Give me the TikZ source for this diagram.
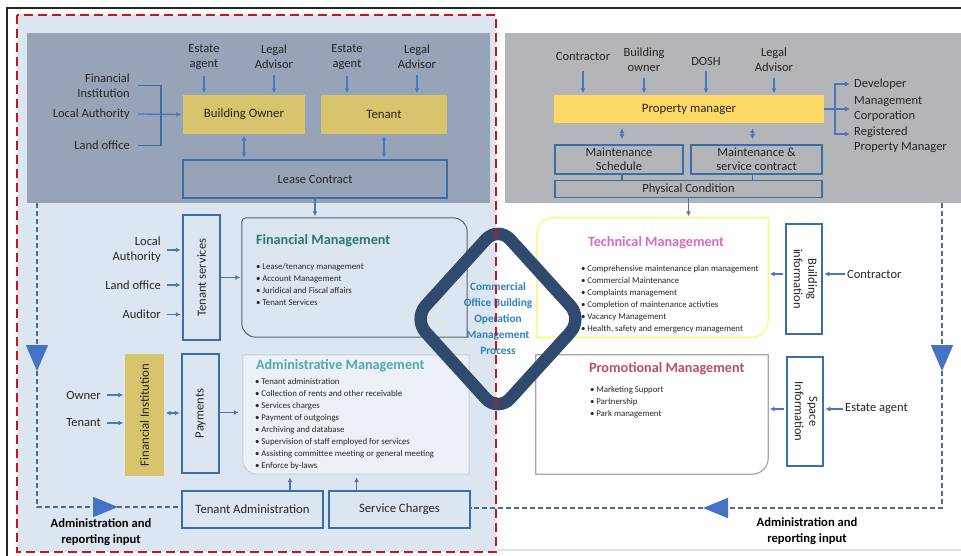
\documentclass[tikz,border=0pt]{standalone}
\usepackage{fontspec}
\setmainfont{Carlito}
\usepackage{graphicx}
\usepackage{tikz}
\usetikzlibrary{arrows.meta, positioning, shapes.geometric, decorations.markings}
\tikzset{>={Latex[width=5pt,length=5pt]}}

\definecolor{paleblue}{HTML}{DCE6F1}
\definecolor{slate}{HTML}{97A4B8}
\definecolor{greypanel}{HTML}{B4B5B8}
\definecolor{gold}{HTML}{D8C46C}
\definecolor{brightgold}{HTML}{FFD966}
\definecolor{boxblue}{HTML}{3A6EA8}
\definecolor{arrowblue}{HTML}{4A78BE}
\definecolor{bigblue}{HTML}{4472C4}
\definecolor{dashline}{HTML}{4E6A94}
\definecolor{navy}{HTML}{2F4A6D}
\definecolor{coretext}{HTML}{2F80BF}
\definecolor{fmteal}{HTML}{2B7676}
\definecolor{admteal}{HTML}{4FAAAE}
\definecolor{techpink}{HTML}{D46CC4}
\definecolor{promored}{HTML}{C04E62}
\definecolor{framered}{HTML}{C8141E}
\definecolor{ink}{HTML}{262626}

\tikzset{
  lbl/.style = {font=\fontsize{12.5}{15}\selectfont, text=ink, inner sep=1pt, align=center},
  party/.style = {fill=gold, text=ink, inner sep=0pt, font=\fontsize{12.8}{15}\selectfont},
  outbox/.style = {draw=boxblue, line width=1.5pt, text=ink, inner sep=0pt, align=center,
                   font=\fontsize{12.5}{14.5}\selectfont},
  flow/.style = {->, arrowblue, line width=1.3pt, shorten >=1.5pt},
  feed/.style = {flow, shorten <=5pt},
  link/.style = {boxblue, line width=1.3pt},
  report/.style = {dashline, line width=1.6pt, dash pattern=on 5pt off 3pt},
  mgmtarea/.style = {inner sep=0pt, minimum height=119pt},
  headline/.style = {anchor=west, inner sep=0pt, font=\fontsize{14.2}{16}\selectfont\bfseries},
  bullets/.style = {anchor=west, inner sep=0pt, align=left, text=ink, font=\fontsize{8.8}{12}\selectfont},
  replbl/.style = {font=\fontsize{12.6}{16}\selectfont\bfseries, align=center, inner sep=0pt, text=black},
}

\begin{document}
\begin{tikzpicture}[x=1pt, y=1pt]
\useasboundingbox (0,0) rectangle (961,-556);
% backdrop and panels
\fill[white] (0,0) rectangle (961,-556);
\fill[paleblue] (17,-15) rectangle (496,-552);
\fill[slate] (27,-33) rectangle (490,-203);
\fill[greypanel] (505,-33) rectangle (961,-203);
\draw[black!85, line width=1.5pt] (7,-556) -- (7,-8) -- (961,-8);
\draw[black!12, line width=2pt] (497,-550) -- (961,-550);

% owner / tenant block
\node (bo) [party, minimum width=122pt, minimum height=39pt] at (244,-114.5) {Building Owner};
\node (tn) [party, minimum width=126pt, minimum height=39pt] at (384,-114.5) {Tenant};
\node (lc) [outbox, minimum width=264pt, minimum height=38pt] at (315,-179) {Lease Contract};
\node (ea1) [lbl] at (204,-57) {Estate\\agent};
\node (la1) [lbl] at (274,-57) {Legal\\Advisor};
\node (ea2) [lbl] at (347,-57) {Estate\\agent};
\node (la2) [lbl] at (417,-57) {Legal\\Advisor};
\node (fi) [lbl, align=right, anchor=east] at (131,-85.5) {Financial\\Institution};
\node (lauth) [lbl, anchor=east] at (131,-114) {Local Authority};
\node (lof) [lbl, anchor=east] at (131,-145.5) {Land office};
\coordinate (fork) at (161,-114);

% left column
\node (ts) [outbox, minimum width=37pt, minimum height=125pt] at (201.5,-277.5) {\rotatebox{90}{Tenant services}};
\node (auth2) [lbl, align=right, anchor=east] at (162,-250) {Local\\Authority};
\node (land2) [lbl, anchor=east] at (162,-285) {Land office};
\node (aud) [lbl, anchor=east] at (162,-314.5) {Auditor};
\node (fin) [party, minimum width=39pt, minimum height=122pt] at (144.5,-415) {\rotatebox{90}{Financial Institution}};
\node (pay) [outbox, minimum width=37pt, minimum height=119pt] at (200.5,-413.5) {\rotatebox{90}{Payments}};
\node (own) [lbl, anchor=east] at (102,-395) {Owner};
\node (ten) [lbl, anchor=east] at (102,-423) {Tenant};
\node (ta) [outbox, font=\fontsize{12.7}{14}\selectfont, minimum width=141pt, minimum height=37pt] at (252.5,-509.5) {Tenant Administration};
\node (sc) [outbox, font=\fontsize{12.7}{14}\selectfont, minimum width=141pt, minimum height=37pt] at (399.5,-509.5) {Service Charges};

% property manager block
\node (pmg) [party, fill=brightgold, minimum width=270pt, minimum height=28pt] at (689,-109) {Property manager};
\node (ms) [outbox, font=\fontsize{12.5}{14}\selectfont, minimum width=128pt, minimum height=29pt] at (619,-159.5) {Maintenance\\Schedule};
\node (msc) [outbox, font=\fontsize{12.5}{14}\selectfont, minimum width=131pt, minimum height=29pt] at (756.5,-159.5) {Maintenance \&\\service contract};
\node (pc) [outbox, minimum width=267pt, minimum height=17pt] at (688.5,-189) {Physical Condition};
\node (con) [lbl] at (583,-56) {Contractor};
\node (bown) [lbl] at (644,-59.5) {Building\\owner};
\node (dosh) [lbl] at (706,-61) {DOSH};
\node (lad) [lbl] at (774,-59.5) {Legal\\Advisor};
\coordinate (split) at (835,-109);
\node (dev) [lbl, anchor=west] at (853,-84) {Developer};
\node (mc) [lbl, align=left, anchor=west] at (853,-109) {Management\\Corporation};
\node (reg) [lbl, align=left, anchor=west] at (853,-140) {Registered\\Property Manager};

% right column
\node (bi) [outbox, minimum width=36pt, minimum height=110pt] at (804,-279) {\rotatebox{-90}{\begin{tabular}{@{}c@{}}Building\\information\end{tabular}}};
\node (si) [outbox, minimum width=36pt, minimum height=109pt] at (805,-411.5) {\rotatebox{-90}{\begin{tabular}{@{}c@{}}Space\\Information\end{tabular}}};
\node (ctr) [lbl, anchor=west] at (846,-274) {Contractor};
\node (eag) [lbl, anchor=west] at (844,-409) {Estate agent};

% management areas
\node (fm) [mgmtarea, minimum width=225pt] at (354.5,-277.5) {};
\node (adm) [mgmtarea, minimum width=226pt] at (356,-414.5) {};
\node (tm) [mgmtarea, minimum width=231pt] at (652.5,-277.5) {};
\node (prm) [mgmtarea, minimum width=232pt] at (652,-414.5) {};
\draw[draw=black!40!slate, line width=1pt] ([xshift=4pt]fm.north west) -- ([xshift=-14pt]fm.north east)
  arc[start angle=90, end angle=0, radius=14pt] -- (fm.south east) -- ([xshift=14pt]fm.south west)
  arc[start angle=270, end angle=180, radius=14pt] -- ([yshift=-4pt]fm.north west)
  arc[start angle=180, end angle=90, radius=4pt] -- cycle;
\draw[draw=black!10!paleblue, fill=white!45!paleblue, line width=1pt] (adm.north west) -- (adm.north east)
  -- (adm.south east) -- ([xshift=14pt]adm.south west)
  arc[start angle=270, end angle=180, radius=14pt] -- cycle;
\draw[draw=yellow!60!white, fill=white, line width=1.2pt] ([xshift=16pt]tm.north west) -- (tm.north east)
  -- ([yshift=16pt]tm.south east) arc[start angle=0, end angle=-90, radius=16pt] -- (tm.south west)
  -- ([yshift=-16pt]tm.north west) arc[start angle=180, end angle=90, radius=16pt] -- cycle;
\draw[draw=black!35, fill=white, line width=1.2pt] (prm.north west) -- (prm.north east)
  -- ([yshift=16pt]prm.south east) arc[start angle=0, end angle=-90, radius=16pt] -- (prm.south west) -- cycle;

\node (fmhead) [headline, text=fmteal] at ([xshift=14pt, yshift=-23pt]fm.north west) {Financial Management};
\node (fmlist) [bullets] at ([xshift=14pt, yshift=-67pt]fm.north west)
  {• Lease/tenancy management\\• Account Management\\• Juridical and Fiscal affairs\\• Tenant Services};
\node (admhead) [headline, text=admteal] at ([xshift=13pt, yshift=-11pt]adm.north west) {Administrative Management};
\node (admlist) [bullets] at ([xshift=12pt, yshift=-69pt]adm.north west)
  {• Tenant administration\\• Collection of rents and other receivable\\• Services charges\\• Payment of outgoings\\
   • Archiving and database\\• Supervision of staff employed for services\\
   • Assisting committee meeting or general meeting\\• Enforce by-laws};
\node (tmhead) [headline, text=techpink] at ([xshift=51pt, yshift=-25pt]tm.north west) {Technical Management};
\node (tmlist) [bullets] at ([xshift=44pt, yshift=-81pt]tm.north west)
  {• Comprehensive maintenance plan management\\• Commercial Maintenance\\• Complaints management\\
   • Completion of maintenance activties\\• Vacancy Management\\• Health, safety and emergency management};
\node (prmhead) [headline, text=promored] at ([xshift=53pt, yshift=-14pt]prm.north west) {Promotional Management};
\node (prmlist) [bullets] at ([xshift=54pt, yshift=-47pt]prm.north west)
  {• Marketing Support\\• Partnership\\• Park management};

% connectors
\path[feed]
  (ea1.south) edge (ea1.south |- bo.north)
  (la1.south) edge (la1.south |- bo.north)
  (ea2.south) edge (ea2.south |- tn.north)
  (la2.south) edge (la2.south |- tn.north)
  (con.south) edge[shorten <=10pt] (con.south |- pmg.north)
  (bown.south) edge (bown.south |- pmg.north)
  (dosh.south) edge (dosh.south |- pmg.north)
  (lad.south) edge (lad.south |- pmg.north)
  (auth2.east) edge (auth2.east -| ts.west)
  (land2.east) edge (land2.east -| ts.west)
  (aud.east) edge (aud.east -| ts.west)
  (own.east) edge (own.east -| fin.west)
  (ten.east) edge (ten.east -| fin.west)
  (ctr.west) edge[shorten <=1pt] (ctr.west -| bi.east)
  (eag.west) edge[shorten <=1pt] (eag.west -| si.east);
\draw[link] ([xshift=7pt]fi.east) -| (fork) |- ([xshift=7pt]lof.east);
\path[flow]
  ([xshift=7pt]lauth.east) edge (bo.west)
  (lc.south) edge (lc.south |- fm.north)
  (pc.south) edge (pc.south |- tm.north)
  (ts.east) edge (ts.east -| fm.west)
  ([yshift=1pt]pay.east) edge[shorten >=4pt] ([yshift=1pt]pay.east -| adm.west)
  ([yshift=5pt]bi.west) edge[shorten <=2pt] ([yshift=5pt]bi.west -| tm.east)
  ([yshift=2.5pt]si.west) edge[shorten <=2pt] ([yshift=2.5pt]si.west -| prm.east)
  ([xshift=37.5pt]ta.north) edge[shorten >=3pt] ([xshift=37.5pt]ta.north |- adm.south)
  ([xshift=-43pt]sc.north) edge[shorten >=3pt] ([xshift=-43pt]sc.north |- adm.south);
\path[flow, <->, shorten <=1.5pt]
  (bo.south) edge (bo.south |- lc.north)
  (tn.south) edge (tn.south |- lc.north)
  ([yshift=2pt]fin.east) edge ([yshift=2pt]fin.east -| pay.west)
  ([xshift=3pt]ms.north |- pmg.south) edge[shorten <=5pt, shorten >=5pt] ([xshift=3pt]ms.north)
  ([xshift=-4pt]msc.north |- pmg.south) edge[shorten <=5pt, shorten >=5pt] ([xshift=-4pt]msc.north);
\draw[link] ([xshift=3pt]ms.south) -- ([xshift=3pt]ms.south |- pc.north);
\draw[link] ([xshift=-4pt]msc.south) -- ([xshift=-4pt]msc.south |- pc.north);
\draw[link, arrowblue] (pmg.east) -- (split);
\draw[flow, shorten >=3pt] (split) |- (dev.west);
\draw[flow, shorten >=3pt] (split) -- (mc.west);
\draw[flow, shorten >=3pt] (split) |- ([yshift=6pt]reg.west);

% reporting loops
\coordinate (ltop) at (37,-203);
\coordinate (lbend) at (37,-507);
\coordinate (rtop) at (942,-203);
\coordinate (rbend) at (942,-508);
\draw[report, postaction={decorate}, decoration={markings,
    mark=at position 168pt with {\arrow{Triangle[length=26pt, width=22pt, color=bigblue]}},
    mark=at position 385pt with {\arrow{Triangle[length=25pt, width=20pt, color=bigblue]}}}]
  (ltop) -- (lbend) -- (lbend -| ta.west);
\draw[report, postaction={decorate}, decoration={markings,
    mark=at position 168pt with {\arrow{Triangle[length=26pt, width=22pt, color=bigblue]}},
    mark=at position 544pt with {\arrow{Triangle[length=25pt, width=20pt, color=bigblue]}}}]
  (rtop) -- (rbend) -- (rbend -| sc.east);
\node (rep1) [replbl] at (101,-532) {Administration and\\reporting input};
\node (rep2) [replbl] at (807,-531) {Administration and\\reporting input};

% process diamond
\node (core) [diamond, draw=navy, line width=12.5pt, rounded corners=18pt, minimum width=174pt,
  minimum height=191pt, inner sep=0pt, align=center, text=coretext,
  font=\fontsize{11.3}{16}\selectfont\bfseries] at (498,-319)
  {Commercial\\Office Building\\Operation\\Management\\Process};

% scope frame
\draw[framered, line width=2.6pt, dash pattern=on 9pt off 5pt] (17,-15) rectangle (496,-552);
\end{tikzpicture}
\end{document}
